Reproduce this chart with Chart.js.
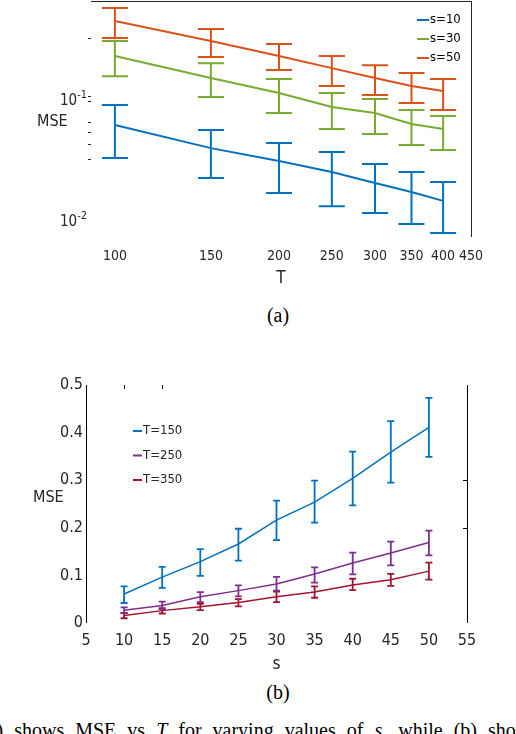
<!DOCTYPE html>
<html><head><meta charset="utf-8">
<script src="https://cdn.jsdelivr.net/npm/chart.js@4.4.0/dist/chart.umd.min.js"></script>
<style>
html,body{margin:0;padding:0;background:#fff;width:516px;height:734px;overflow:hidden;position:relative}
#wa{position:absolute;left:0;top:0;width:516px;height:290px}
#wb{position:absolute;left:0;top:360px;width:516px;height:320px}
.lbl{position:absolute;font-family:'Liberation Sans Narrow','DejaVu Sans Condensed','Liberation Sans',sans-serif;color:#262626;line-height:1;white-space:nowrap}
.cap{position:absolute;font-family:'Liberation Serif','Times New Roman',serif;color:#000;white-space:nowrap}
</style></head><body>
<div id="wa"><canvas id="ca"></canvas></div>
<div id="wb"><canvas id="cb"></canvas></div>
<div class="lbl" style="left:37px;top:113px;font-size:16px">MSE</div>
<div class="cap" style="left:0;width:556px;text-align:center;top:303px;font-size:20px;line-height:24px">(a)</div>
<div class="lbl" style="left:33px;top:489px;font-size:16px">MSE</div>
<div class="cap" style="left:0;width:556px;text-align:center;top:680px;font-size:20px;line-height:24px">(b)</div>
<div class="cap" style="left:-19px;top:720px;font-size:20px;line-height:20px;word-spacing:6px">(a) shows MSE vs <i>T</i> for varying values of <i>s</i>, while (b) shows</div>
<script>
// ---------- Chart (a): MSE vs T, log-log ----------
const T_VALUES = [100, 150, 200, 250, 300, 350, 400];
const A_X_TICKS = [100, 150, 200, 250, 300, 350, 400, 450];
const A_Y_TICKS = [0.01, 0.03, 0.04, 0.05, 0.06, 0.09, 0.1, 0.3];
const A_Y_LABEL_VALUES = [0.01, 0.1];
const A_Y_LABEL_EXPONENTS = ['-2', '-1'];
const A_SERIES = ['s=10', 's=30', 's=50'];
const A_S10    = [0.0576, 0.0371, 0.0290, 0.0236, 0.0191, 0.0161, 0.0136];
const A_S10_LO = [0.0308, 0.0210, 0.0158, 0.0123, 0.0108, 0.00875, 0.00738];
const A_S10_HI = [0.0843, 0.0524, 0.0409, 0.0344, 0.0274, 0.0236, 0.0195];
const A_S30    = [0.214, 0.141, 0.106, 0.0811, 0.0724, 0.0587, 0.0534];
const A_S30_LO = [0.146, 0.098, 0.0724, 0.0534, 0.0486, 0.0394, 0.0358];
const A_S30_HI = [0.285, 0.187, 0.138, 0.106, 0.0945, 0.0766, 0.0684];
const A_S50    = [0.417, 0.285, 0.214, 0.170, 0.141, 0.121, 0.110];
const A_S50_LO = [0.301, 0.210, 0.164, 0.121, 0.102, 0.0875, 0.0766];
const A_S50_HI = [0.533, 0.358, 0.269, 0.214, 0.180, 0.155, 0.138];

// ---------- Chart (b): MSE vs s, linear ----------
const S_VALUES = [10, 15, 20, 25, 30, 35, 40, 45, 50];
const B_SERIES = ['T=150', 'T=250', 'T=350'];
const B_T150    = [0.061, 0.0965, 0.129, 0.166, 0.216, 0.254, 0.304, 0.359, 0.411];
const B_T150_LO = [0.042, 0.074, 0.099, 0.131, 0.174, 0.211, 0.247, 0.295, 0.349];
const B_T150_HI = [0.077, 0.118, 0.155, 0.198, 0.257, 0.299, 0.360, 0.424, 0.473];
const B_T250    = [0.027, 0.037, 0.055, 0.068, 0.082, 0.103, 0.126, 0.147, 0.169];
const B_T250_LO = [0.021, 0.029, 0.044, 0.056, 0.068, 0.085, 0.102, 0.121, 0.142];
const B_T250_HI = [0.033, 0.045, 0.065, 0.079, 0.097, 0.117, 0.148, 0.171, 0.194];
const B_T350    = [0.016, 0.026, 0.034, 0.043, 0.055, 0.065, 0.080, 0.091, 0.109];
const B_T350_LO = [0.010, 0.020, 0.027, 0.035, 0.044, 0.053, 0.069, 0.078, 0.091];
const B_T350_HI = [0.021, 0.031, 0.040, 0.050, 0.066, 0.077, 0.093, 0.103, 0.127];
const B_TOP_TICKS = [10, 15];
const B_RIGHT_TICKS = [0.2, 0.3];

const NARROW = "'Liberation Sans Narrow','DejaVu Sans Condensed','Liberation Sans',sans-serif";
const TXT = '#262626';

const errorBarPlugin = {
  id: 'errbars',
  afterDatasetDraw(chart, args, o) {
    const ds = chart.data.datasets[args.index];
    if (!ds.errLow) return;
    const xs = chart.scales.x, ys = chart.scales.y, ctx = chart.ctx;
    ctx.save();
    ctx.strokeStyle = ds.borderColor;
    ctx.lineWidth = o.width;
    ds.data.forEach((p, i) => {
      const x = xs.getPixelForValue(p.x);
      const y1 = ys.getPixelForValue(ds.errLow[i]);
      const y2 = ys.getPixelForValue(ds.errHigh[i]);
      ctx.beginPath();
      ctx.moveTo(x, y1); ctx.lineTo(x, y2);
      ctx.moveTo(x - o.cap, y1); ctx.lineTo(x + o.cap, y1);
      ctx.moveTo(x - o.cap, y2); ctx.lineTo(x + o.cap, y2);
      ctx.stroke();
    });
    ctx.restore();
  }
};

const framePlugin = {
  id: 'frame',
  afterDraw(chart, args, o) {
    const {left, right, top, bottom} = chart.chartArea, ctx = chart.ctx;
    ctx.save();
    ctx.strokeStyle = o.color; ctx.lineWidth = 1;
    ctx.beginPath();
    o.sides.forEach(s => {
      if (s === 'top') { ctx.moveTo(left, top + 0.5); ctx.lineTo(right, top + 0.5); }
      if (s === 'right') { ctx.moveTo(right + 0.5, top); ctx.lineTo(right + 0.5, bottom); }
      if (s === 'left') { ctx.moveTo(left + 0.5, top); ctx.lineTo(left + 0.5, bottom); }
      if (s === 'bottom') { ctx.moveTo(left, bottom + 0.5); ctx.lineTo(right, bottom + 0.5); }
    });
    (o.topTicks || []).forEach(v => {
      const x = Math.round(chart.scales.x.getPixelForValue(v)) + 0.5;
      ctx.moveTo(x, top); ctx.lineTo(x, top + 4);
    });
    (o.rightTicks || []).forEach(v => {
      const y = Math.round(chart.scales.y.getPixelForValue(v)) + 0.5;
      ctx.moveTo(right, y); ctx.lineTo(right - 4, y);
    });
    ctx.stroke();
    ctx.restore();
  }
};

const legendPlugin = {
  id: 'boxlegend',
  afterDraw(chart, args, o) {
    const ctx = chart.ctx;
    ctx.save();
    ctx.font = o.font;
    ctx.textBaseline = 'middle';
    ctx.textAlign = 'left';
    chart.data.datasets.forEach((ds, i) => {
      const y = o.y + i * o.dy;
      ctx.strokeStyle = ds.borderColor;
      ctx.lineWidth = o.lineWidth;
      ctx.beginPath(); ctx.moveTo(o.x, y); ctx.lineTo(o.x + o.len, y); ctx.stroke();
      ctx.fillStyle = o.color;
      ctx.fillText(ds.label, o.x + o.len + o.gap, y);
    });
    ctx.restore();
  }
};

// power-of-ten tick labels with a real superscript exponent
const powLabelPlugin = {
  id: 'powlabels',
  afterDraw(chart, args, o) {
    if (!o.values) return;
    const ys = chart.scales.y, ctx = chart.ctx;
    const right = chart.chartArea.left - o.gap;
    ctx.save();
    ctx.fillStyle = o.color;
    ctx.textBaseline = 'alphabetic';
    o.values.forEach((v, i) => {
      const y = ys.getPixelForValue(v) + o.offset;
      ctx.font = o.expSize + 'px ' + NARROW;
      const ew = ctx.measureText(o.exps[i]).width;
      ctx.textAlign = 'left';
      ctx.fillText(o.exps[i], right - ew, y - o.raise);
      ctx.font = o.baseSize + 'px ' + NARROW;
      ctx.textAlign = 'right';
      ctx.fillText('10', right - ew, y);
    });
    ctx.restore();
  }
};

function mkSet(label, xs, ys, lo, hi, color, w) {
  return {
    label: label,
    data: xs.map((x, i) => ({x: x, y: ys[i]})),
    errLow: lo, errHigh: hi,
    borderColor: color, backgroundColor: color,
    borderWidth: w, pointRadius: 0, tension: 0, fill: false
  };
}

function zeroPad(s) { s.paddingTop = 0; s.paddingBottom = 0; s.paddingLeft = 0; s.paddingRight = 0; }

new Chart(document.getElementById('ca'), {
  type: 'line',
  data: {
    datasets: [
      mkSet(A_SERIES[0], T_VALUES, A_S10, A_S10_LO, A_S10_HI, '#0072BD', 2),
      mkSet(A_SERIES[1], T_VALUES, A_S30, A_S30_LO, A_S30_HI, '#77AC30', 2),
      mkSet(A_SERIES[2], T_VALUES, A_S50, A_S50_LO, A_S50_HI, '#D95319', 2)
    ]
  },
  plugins: [errorBarPlugin, framePlugin, legendPlugin, powLabelPlugin],
  options: {
    responsive: true, maintainAspectRatio: false, animation: false,
    layout: {padding: {top: 1, right: 45, bottom: 0, left: 0}},
    plugins: {
      legend: {display: false}, tooltip: {enabled: false},
      errbars: {width: 2, cap: 13},
      frame: {sides: ['top', 'right'], color: '#262626'},
      boxlegend: {x: 417, y: 20, dy: 19, len: 12, gap: 1, lineWidth: 2,
                  font: '13px ' + NARROW, color: '#000'},
      powlabels: {values: A_Y_LABEL_VALUES, exps: A_Y_LABEL_EXPONENTS, gap: 4, offset: 9,
                  raise: 7, baseSize: 15, expSize: 11, color: TXT}
    },
    scales: {
      x: {
        type: 'logarithmic', min: 90.4, max: 450,
        afterBuildTicks: s => { s.ticks = A_X_TICKS.map(v => ({value: v})); },
        afterFit: s => { s.height = 53; zeroPad(s); },
        grid: {display: false, drawTicks: false},
        border: {display: false},
        ticks: {callback: v => String(v), autoSkip: false, maxRotation: 0, padding: 11,
                color: TXT, font: {family: NARROW, size: 14}},
        title: {display: true, text: 'T', color: TXT, font: {family: NARROW, size: 17},
                padding: {top: 0, bottom: 1}}
      },
      y: {
        type: 'logarithmic', min: 0.00684, max: 0.61,
        afterBuildTicks: s => { s.ticks = A_Y_TICKS.map(v => ({value: v})); },
        afterFit: s => { s.width = 91; zeroPad(s); },
        grid: {drawOnChartArea: false, drawTicks: true, tickLength: 3,
               color: c => (c.tick && c.tick.value === 0.01) ? 'rgba(0,0,0,0)' : '#262626'},
        border: {display: false},
        ticks: {callback: () => '', autoSkip: false, padding: 0}
      }
    }
  }
});

new Chart(document.getElementById('cb'), {
  type: 'line',
  data: {
    datasets: [
      mkSet(B_SERIES[0], S_VALUES, B_T150, B_T150_LO, B_T150_HI, '#0072BD', 1.5),
      mkSet(B_SERIES[1], S_VALUES, B_T250, B_T250_LO, B_T250_HI, '#7E2F8E', 1.5),
      mkSet(B_SERIES[2], S_VALUES, B_T350, B_T350_LO, B_T350_HI, '#A2142F', 1.5)
    ]
  },
  plugins: [errorBarPlugin, framePlugin, legendPlugin],
  options: {
    responsive: true, maintainAspectRatio: false, animation: false,
    layout: {padding: {top: 25, right: 49, bottom: 0, left: 0}},
    plugins: {
      legend: {display: false}, tooltip: {enabled: false},
      errbars: {width: 1.8, cap: 3.5},
      frame: {sides: ['left', 'right'], color: '#000', topTicks: B_TOP_TICKS, rightTicks: B_RIGHT_TICKS},
      boxlegend: {x: 133, y: 71, dy: 24.5, len: 9, gap: 1, lineWidth: 2,
                  font: '13px ' + NARROW, color: TXT}
    },
    scales: {
      x: {
        type: 'linear', min: 5, max: 55,
        afterFit: s => { s.height = 57; zeroPad(s); },
        grid: {display: false, drawTicks: false},
        border: {display: false},
        ticks: {stepSize: 5, autoSkip: false, maxRotation: 0, padding: 8,
                color: TXT, font: {family: NARROW, size: 16}},
        title: {display: true, text: 's', color: TXT, font: {family: NARROW, size: 17},
                padding: {top: 0, bottom: 5}}
      },
      y: {
        type: 'linear', min: 0, max: 0.5,
        afterFit: s => { s.width = 86; zeroPad(s); },
        grid: {display: false, drawTicks: false},
        border: {display: false},
        ticks: {stepSize: 0.1, autoSkip: false, padding: 3,
                callback: v => (v === 0 ? '0' : v.toFixed(1)),
                color: TXT, font: {family: NARROW, size: 16}}
      }
    }
  }
});
</script>
</body></html>
